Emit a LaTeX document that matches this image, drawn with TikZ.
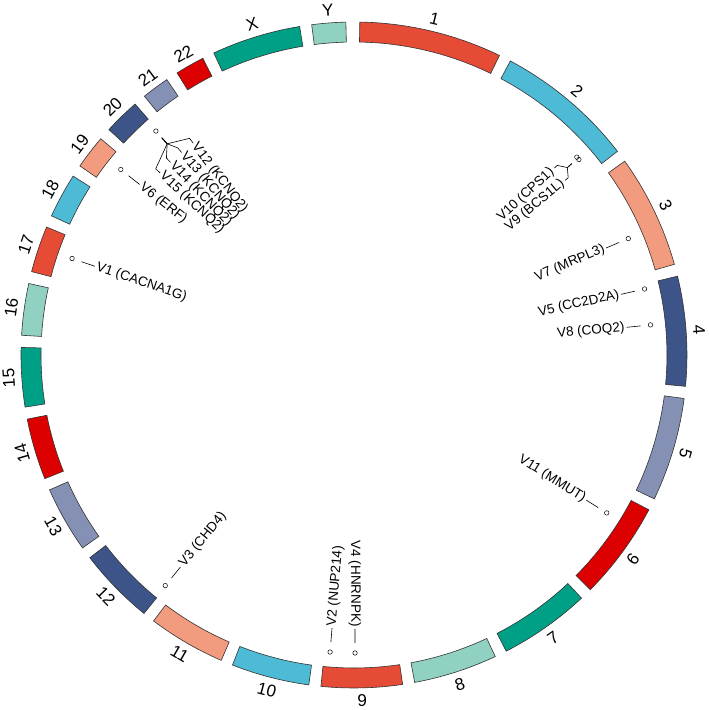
\documentclass[tikz,border=0pt]{standalone}
\usepackage{fontspec}
\setmainfont{Liberation Sans}
\definecolor{cA}{HTML}{E64B35}
\definecolor{cB}{HTML}{4DBBD5}
\definecolor{cC}{HTML}{F39B7F}
\definecolor{cD}{HTML}{3C5488}
\definecolor{cE}{HTML}{8491B4}
\definecolor{cF}{HTML}{DC0000}
\definecolor{cG}{HTML}{00A087}
\definecolor{cH}{HTML}{91D1C2}
\begin{document}
\begin{tikzpicture}[x=1pt,y=1pt,
  seg/.style={draw=black!80,line width=0.6pt},
  chrlab/.style={font=\fontsize{17}{17}\selectfont},
  dot/.style={circle,draw,line width=0.5pt,inner sep=0pt,minimum size=4.5pt},
  vlab/.style={font=\fontsize{13.5}{14}\selectfont,inner sep=0pt},
  tick/.style={line width=0.6pt}]
\useasboundingbox (-354,-355) rectangle (355,355);
\foreach \a/\b/\l/\c in {1.0/25.9/1/cA,28.0/52.3/2/cB,54.4/74.2/3/cC,76.3/95.4/4/cD,97.5/115.6/5/cE,117.7/134.8/6/cF,136.9/152.8/7/cG,154.9/169.5/8/cH,171.6/185.7/9/cA,187.8/201.4/10/cB,203.5/217.0/11/cC,219.1/232.5/12/cD,234.6/246.1/13/cE,248.2/258.9/14/cF,261.0/271.3/15/cG,273.4/282.4/16/cH,284.5/292.6/17/cA,294.7/302.5/18/cB,304.6/310.5/19/cC,312.6/318.9/20/cD,321.0/325.8/21/cE,327.9/333.0/22/cF,335.1/350.6/X/cG,352.7/358.6/Y/cH}{
  \pgfmathsetmacro\sa{90-\a}
  \pgfmathsetmacro\sb{90-\b}
  \pgfmathsetmacro\m{(\a+\b)/2}
  \pgfmathsetmacro\rot{(\m>112.5 && \m<247.5) ? 180-\m : -\m}
  \draw[seg,fill=\c] (\sa:313) arc[start angle=\sa,end angle=\sb,radius=313] -- (\sb:333) arc[start angle=\sb,end angle=\sa,radius=333] -- cycle;
  \node[chrlab,rotate=\rot] (lab\l) at (90-\m:346) {\l};
}
% right-side single variants
\foreach \t/\n/\txt in {67/v7/V7 (MRPL3),77.2/v5/V5 (CC2D2A),84.2/v8/V8 (COQ2),122/v11/V11 (MMUT),179.8/v4/V4 (HNRNPK)}{
  \node[dot] (\n) at (90-\t:298) {};
  \coordinate (\n a) at (90-\t:288);
  \coordinate (\n b) at (90-\t:274);
  \draw[tick] (\n a) -- (\n b);
  \node[vlab,anchor=east,rotate=90-\t] (\n t) at (90-\t:272) {\txt};
}
% left-side single variants
\foreach \t/\n/\txt in {184.6/v2/V2 (NUP214),219.3/v3/V3 (CHD4),288.9/v1/V1 (CACNA1G),308.5/v6/V6 (ERF)}{
  \node[dot] (\n) at (90-\t:298) {};
  \coordinate (\n a) at (90-\t:288);
  \coordinate (\n b) at (90-\t:274);
  \draw[tick] (\n a) -- (\n b);
  \node[vlab,anchor=west,rotate=270-\t] (\n t) at (90-\t:272) {\txt};
}
% V10 / V9 fan
\node[dot] (v10) at (90-48.4:298) {};
\node[dot] (v9) at (90-49.0:298) {};
\coordinate (f1) at (90-48.7:290);
\coordinate (f2) at (90-48.7:284);
\foreach \t/\n/\txt in {47.0/v10/V10 (CPS1),50.4/v9/V9 (BCS1L)}{
  \coordinate (\n a) at (90-\t:278);
  \coordinate (\n b) at (90-\t:274);
  \draw[tick] (f1) -- (f2) -- (\n a) -- (\n b);
  \node[vlab,anchor=east,rotate=90-\t] (\n t) at (90-\t:271) {\txt};
}
% KCNQ2 fan
\node[dot] (v12) at (90-318.5:299) {};
\coordinate (g1) at (90-318.5:290);
\coordinate (g2) at (90-318.5:282);
\foreach \t/\n/\txt in {322.8/v12/V12 (KCNQ2),319.6/v13/V13 (KCNQ2),316.4/v14/V14 (KCNQ2),313.2/v15/V15 (KCNQ2)}{
  \coordinate (\n a) at (90-\t:272);
  \coordinate (\n b) at (90-\t:266);
  \draw[tick] (g1) -- (g2) -- (\n a) -- (\n b);
  \node[vlab,anchor=west,rotate=270-\t] (\n t) at (90-\t:264) {\txt};
}
\end{tikzpicture}
\end{document}
